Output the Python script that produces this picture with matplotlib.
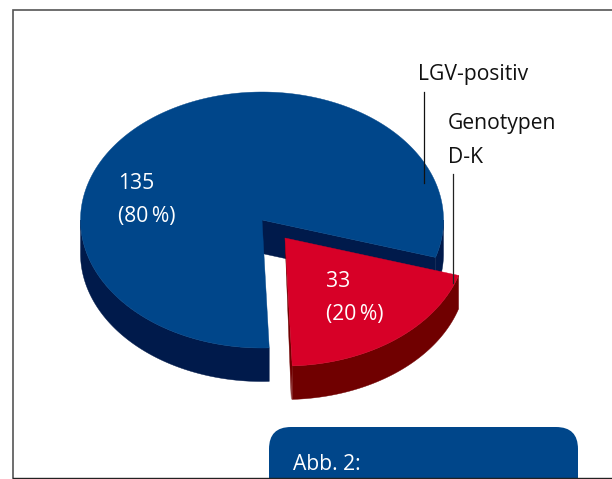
import numpy as np
import matplotlib
matplotlib.use("Agg")
import matplotlib.pyplot as plt
from matplotlib.patches import Polygon, FancyBboxPatch

counts = [135, 33]
percent_labels = ["(80\u2009%)", "(20\u2009%)"]
top_colors = ["#00468A", "#D70027"]
side_colors = ["#001A4B", "#700000"]
callouts = ["LGV-positiv", "Genotypen", "D-K"]
caption = "Abb. 2:"

plt.rcParams["font.family"] = ["Open Sans", "DejaVu Sans"]
fig = plt.figure(figsize=(6.12, 4.79), dpi=100)
ax = fig.add_axes([0, 0, 1, 1])
ax.set_xlim(0, 612)
ax.set_ylim(479, 0)
ax.axis("off")

RX, RY, DEPTH = 181.5, 128.0, 33.5
START = -17.0
centers = [(262.0, 220.0), (285.0, 238.0)]
spans = [c / sum(counts) * 360 for c in counts]
t_blue0, t_blue1 = START, START + spans[0]
t_red0, t_red1 = START - spans[1], START


def pt(c, deg, dz=0.0):
    a = np.radians(np.asarray(deg, dtype=float))
    return np.column_stack([c[0] + RX * np.cos(a), c[1] - RY * np.sin(a) + dz])


def arc(c, a0, a1, dz=0.0, n=240):
    return pt(c, np.linspace(a0, a1, n), dz)


def wall(c, a0, a1, color, z):
    top = arc(c, a0, a1)
    bot = arc(c, a0, a1, DEPTH)[::-1]
    ax.add_patch(Polygon(np.vstack([top, bot]), closed=True, fc=color, ec=color, lw=0.3, zorder=z))


def face(c, a0, a1, color, z):
    ax.add_patch(Polygon(np.vstack([[c], arc(c, a0, a1)]), closed=True, fc=color, ec=color, lw=0.3, zorder=z))


# blue slice
cb = centers[0]
wall(cb, 180, t_blue1, side_colors[0], 1)
wall(cb, t_blue0, 0, side_colors[0], 1)
p = pt(cb, [t_blue0])[0]
ax.add_patch(Polygon([cb, p, p + [0, DEPTH], (cb[0], cb[1] + DEPTH)], closed=True,
                     fc=side_colors[0], ec=side_colors[0], lw=0.3, zorder=1))
face(cb, t_blue0, t_blue1, top_colors[0], 2)

# red slice
cr = centers[1]
wall(cr, t_red0, t_red1, side_colors[1], 3)
q = pt(cr, [t_red0])[0]
ax.add_patch(Polygon([cr, q, q + [-1, DEPTH]], closed=True,
                     fc=side_colors[1], ec=side_colors[1], lw=0.3, zorder=3))
face(cr, t_red0, t_red1, top_colors[1], 4)

# frame
ax.plot([13, 13, 612], [478, 10, 10], color="#555555", lw=1.2, zorder=0, solid_joinstyle="miter")
ax.plot([13, 612], [478, 478], color="#222222", lw=1.0, zorder=7)

# caption box
ax.add_patch(FancyBboxPatch((269 + 22, 427 + 22), 309 - 44, 80,
                            boxstyle="round,pad=22,rounding_size=22",
                            fc=top_colors[0], ec="none", zorder=5, clip_on=True))
ax.add_patch(plt.Rectangle((0, 478.5), 612, 2, fc="white", ec="none", zorder=6))

# leaders
ax.plot([423.5, 423.5], [92, 183], color="#111111", lw=0.9, zorder=6)
ax.plot([453, 453], [174, 283], color="#222222", lw=0.9, zorder=6)

FS = 15.2
ax.text(418, 80, callouts[0], color="#111111", fontsize=FS, va="baseline", zorder=8)
ax.text(448, 129, callouts[1], color="#111111", fontsize=FS, va="baseline", zorder=8)
ax.text(448, 163, callouts[2], color="#111111", fontsize=FS, va="baseline", zorder=8)
ax.text(118, 189, str(counts[0]), color="white", fontsize=FS, va="baseline", zorder=8)
ax.text(118, 222, percent_labels[0], color="white", fontsize=FS, va="baseline", zorder=8)
ax.text(326, 287, str(counts[1]), color="white", fontsize=FS, va="baseline", zorder=8)
ax.text(326, 320, percent_labels[1], color="white", fontsize=FS, va="baseline", zorder=8)
ax.text(293, 470, caption, color="white", fontsize=FS, va="baseline", zorder=8)

fig.savefig("out.png", dpi=100, facecolor="white")
